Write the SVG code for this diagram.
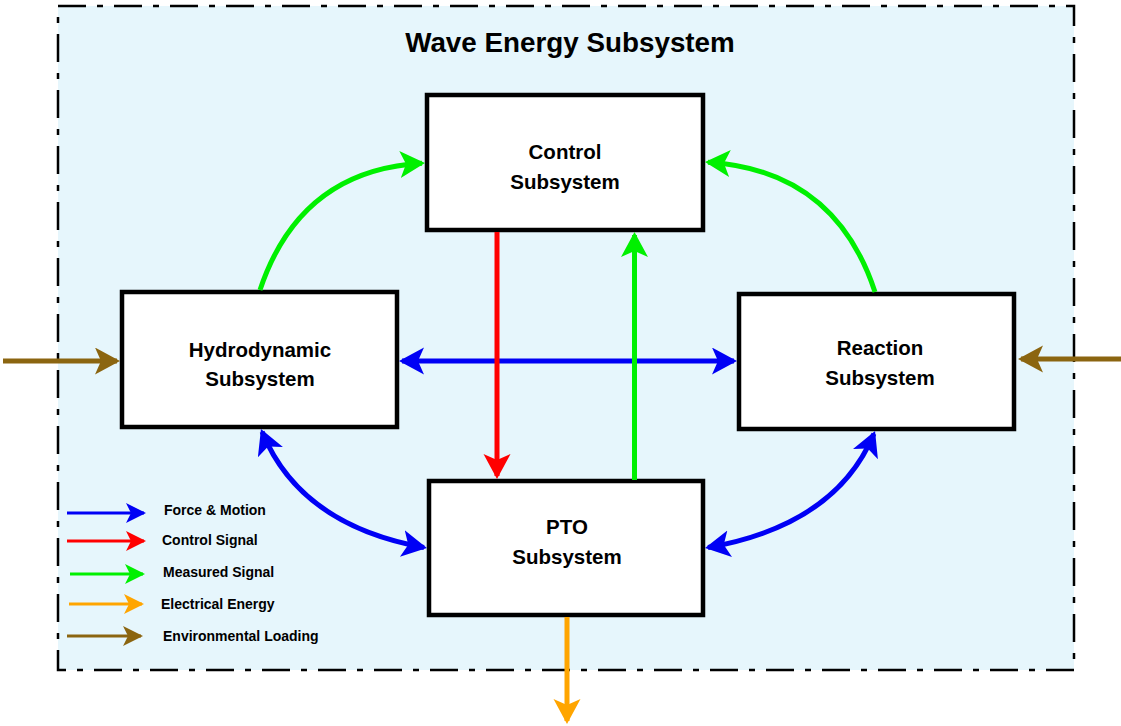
<svg xmlns="http://www.w3.org/2000/svg" width="1121" height="726" viewBox="0 0 1121 726">
<style>
.box{fill:#ffffff;stroke:#000000;stroke-width:4.5}
.lbl{font-family:"Liberation Sans",Arial,sans-serif;font-weight:bold;font-size:20.5px;fill:#000;text-anchor:middle}
.leg{font-family:"Liberation Sans",Arial,sans-serif;font-weight:bold;font-size:14px;fill:#000}
.c{fill:none;stroke-width:5}
.l{fill:none;stroke-width:3}
</style>
<defs>
<marker id="hB" markerUnits="userSpaceOnUse" markerWidth="30" markerHeight="30" refX="22" refY="13.5" orient="auto-start-reverse"><path d="M0,0 L25,13.5 L0,27 L6,13.5 Z" fill="#0000f5"/></marker>
<marker id="hR" markerUnits="userSpaceOnUse" markerWidth="30" markerHeight="30" refX="22" refY="13.5" orient="auto"><path d="M0,0 L25,13.5 L0,27 L6,13.5 Z" fill="#ff0000"/></marker>
<marker id="hG" markerUnits="userSpaceOnUse" markerWidth="30" markerHeight="30" refX="22" refY="13.5" orient="auto"><path d="M0,0 L25,13.5 L0,27 L6,13.5 Z" fill="#00f000"/></marker>
<marker id="hO" markerUnits="userSpaceOnUse" markerWidth="30" markerHeight="30" refX="22" refY="13.5" orient="auto"><path d="M0,0 L25,13.5 L0,27 L6,13.5 Z" fill="#ffa500"/></marker>
<marker id="hN" markerUnits="userSpaceOnUse" markerWidth="30" markerHeight="30" refX="22" refY="13.5" orient="auto"><path d="M0,0 L25,13.5 L0,27 L6,13.5 Z" fill="#8b6510"/></marker>
<marker id="sB" markerUnits="userSpaceOnUse" markerWidth="22" markerHeight="22" refX="18" refY="10" orient="auto"><path d="M0,0 L20,10 L0,20 L5,10 Z" fill="#0000f5"/></marker>
<marker id="sR" markerUnits="userSpaceOnUse" markerWidth="22" markerHeight="22" refX="18" refY="10" orient="auto"><path d="M0,0 L20,10 L0,20 L5,10 Z" fill="#ff0000"/></marker>
<marker id="sG" markerUnits="userSpaceOnUse" markerWidth="22" markerHeight="22" refX="18" refY="10" orient="auto"><path d="M0,0 L20,10 L0,20 L5,10 Z" fill="#00f000"/></marker>
<marker id="sO" markerUnits="userSpaceOnUse" markerWidth="22" markerHeight="22" refX="18" refY="10" orient="auto"><path d="M0,0 L20,10 L0,20 L5,10 Z" fill="#ffa500"/></marker>
<marker id="sN" markerUnits="userSpaceOnUse" markerWidth="22" markerHeight="22" refX="18" refY="10" orient="auto"><path d="M0,0 L20,10 L0,20 L5,10 Z" fill="#8b6510"/></marker>
</defs>
<rect width="1121" height="726" fill="#ffffff"/>
<g id="frame">
<rect x="58" y="6" width="1016" height="664" fill="#e6f6fc" stroke="#000" stroke-width="2.5" stroke-dasharray="28 11 6 11"/>
<text x="570" y="52" font-family="'Liberation Sans',Arial,sans-serif" font-weight="bold" font-size="27.8" text-anchor="middle">Wave Energy Subsystem</text>
</g>
<g id="control">
<rect class="box" x="427" y="95" width="276" height="135"/>
<text class="lbl" x="565" y="159">Control</text>
<text class="lbl" x="565" y="189">Subsystem</text>
</g>
<g id="hydrodynamic">
<rect class="box" x="122" y="292" width="275" height="135"/>
<text class="lbl" x="260" y="357">Hydrodynamic</text>
<text class="lbl" x="260" y="386">Subsystem</text>
</g>
<g id="reaction">
<rect class="box" x="739" y="294" width="275" height="135"/>
<text class="lbl" x="880" y="355">Reaction</text>
<text class="lbl" x="880" y="385">Subsystem</text>
</g>
<g id="pto">
<rect class="box" x="429" y="481" width="274" height="134"/>
<text class="lbl" x="567" y="534">PTO</text>
<text class="lbl" x="567" y="564">Subsystem</text>
</g>
<g id="connectors">
<path class="c" stroke="#0000f5" d="M402,361 L734,361" marker-start="url(#hB)" marker-end="url(#hB)"/>
<path class="c" stroke="#ff0000" d="M497,232 L497,476" marker-end="url(#hR)"/>
<path class="c" stroke="#00f000" d="M634.5,480 L634.5,235" marker-end="url(#hG)"/>
<path class="c" stroke="#00f000" d="M260,290 Q300,170 422,163.2" marker-end="url(#hG)"/>
<path class="c" stroke="#00f000" d="M875,292 Q835,170 708,162.2" marker-end="url(#hG)"/>
<path class="c" stroke="#0000f5" d="M262.1,431.8 Q300,525 424,547.5" marker-start="url(#hB)" marker-end="url(#hB)"/>
<path class="c" stroke="#0000f5" d="M873.9,433.8 Q836,525 708,547.5" marker-start="url(#hB)" marker-end="url(#hB)"/>
<path class="c" stroke="#ffa500" d="M567,617 L567,721" marker-end="url(#hO)"/>
<path class="c" stroke="#8b6510" d="M3,361 L117,361" marker-end="url(#hN)"/>
<path class="c" stroke="#8b6510" d="M1121,359 L1021,359" marker-end="url(#hN)"/>
</g>
<g id="legend">
<path class="l" stroke="#0000f5" d="M67,513 L144,513" marker-end="url(#sB)"/>
<text class="leg" x="164" y="515">Force &amp; Motion</text>
<path class="l" stroke="#ff0000" d="M67,541 L144,541" marker-end="url(#sR)"/>
<text class="leg" x="162" y="545">Control Signal</text>
<path class="l" stroke="#00f000" d="M70,574 L143,574" marker-end="url(#sG)"/>
<text class="leg" x="163" y="577">Measured Signal</text>
<path class="l" stroke="#ffa500" d="M69,604 L142,604" marker-end="url(#sO)"/>
<text class="leg" x="161" y="609">Electrical Energy</text>
<path class="l" stroke="#8b6510" d="M67,636 L141,636" marker-end="url(#sN)"/>
<text class="leg" x="163" y="641">Environmental Loading</text>
</g>
</svg>
